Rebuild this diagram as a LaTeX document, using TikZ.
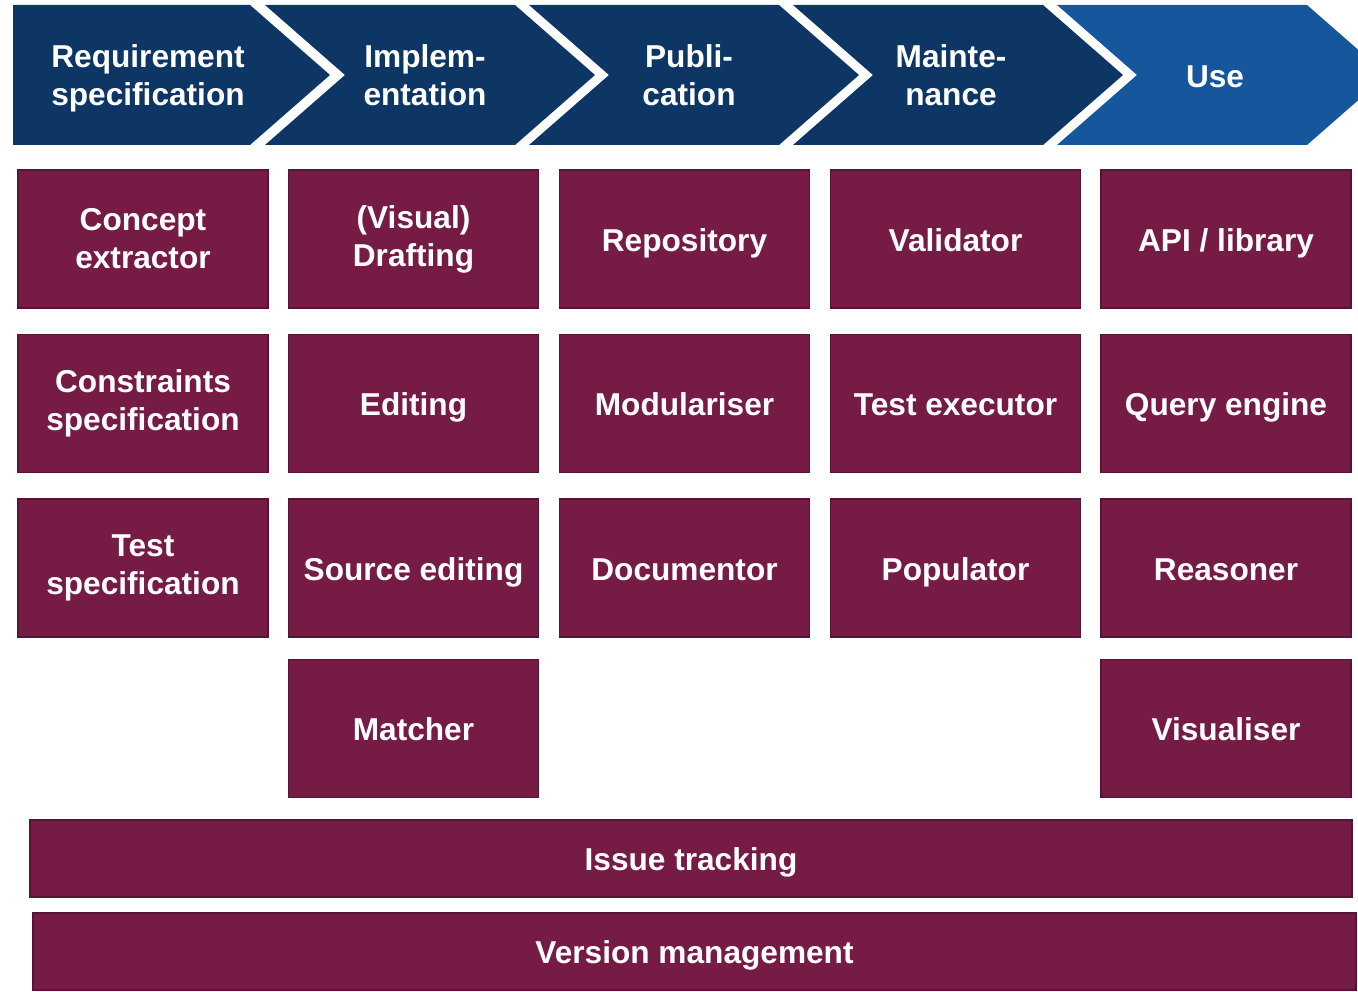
\documentclass[tikz,border=0pt]{standalone}
\usepackage{fontspec}
\setmainfont{Liberation Sans}
\usetikzlibrary{positioning}
\definecolor{phaseblue}{RGB}{13,54,100}
\definecolor{useblue}{RGB}{21,86,156}
\definecolor{toolred}{RGB}{118,26,70}

\tikzset{
  label font/.style={text=white, font=\bfseries\fontsize{9}{10.8}\selectfont, align=center},
  tool/.style={rectangle, fill=toolred, draw=toolred!75!black, line width=0.5pt,
    minimum width=2.5cm, minimum height=1.38cm, inner sep=0pt, label font},
  oneline/.style={text height=1.75ex, text depth=0.45ex},
  bar/.style={tool, oneline, minimum height=0.77cm},
  phase/.style={label font}
}

\begin{document}
\begin{tikzpicture}
    \useasboundingbox (0,0) rectangle (13.58,-9.91);

    % phase arrows along the top
    \fill[phaseblue] (0.13,-0.05) -- (2.50,-0.05) -- (3.30,-0.75) -- (2.50,-1.45) -- (0.13,-1.45) -- cycle;
    \foreach \i/\col in {0/phaseblue,1/phaseblue,2/phaseblue,3/useblue} {
        \pgfmathsetmacro{\l}{2.65+2.64*\i}
        \fill[\col] (\l,-0.05) -- ++(2.50,0) -- ++(0.80,-0.70) -- ++(-0.80,-0.70)
                    -- (\l,-1.45) -- ++(0.80,0.70) -- cycle;
    }
    \node[phase] (req)   at (1.48,-0.78)  {Requirement\\specification};
    \node[phase] (impl)  at (4.25,-0.75)  {Implem-\\entation};
    \node[phase] (pub)   at (6.89,-0.75)  {Publi-\\cation};
    \node[phase] (maint) at (9.51,-0.75)  {Mainte-\\nance};
    \node[phase, oneline] (use) at (12.15,-0.75) {Use};

    % requirement specification
    \node[tool] (concept)     at (1.43,-2.39)  {Concept\\extractor};
    \node[tool] (constraints) at (1.43,-4.035) {Constraints\\specification};
    \node[tool] (testspec)    at (1.43,-5.68)  {Test\\specification};

    % implementation
    \node[tool] (drafting)         at (4.135,-2.39)  {(Visual)\\Drafting};
    \node[tool, oneline] (editing) at (4.135,-4.035) {Editing};
    \node[tool, oneline] (source)  at (4.135,-5.68)  {Source editing};
    \node[tool, oneline] (matcher) at (4.135,-7.285) {Matcher};

    % publication
    \node[tool, oneline] (repository)  at (6.845,-2.39)  {Repository};
    \node[tool, oneline] (modulariser) at (6.845,-4.035) {Modulariser};
    \node[tool, oneline] (documentor)  at (6.845,-5.68)  {Documentor};

    % maintenance
    \node[tool, oneline] (validator) at (9.555,-2.39)  {Validator};
    \node[tool, oneline] (testexec)  at (9.555,-4.035) {Test executor};
    \node[tool, oneline] (populator) at (9.555,-5.68)  {Populator};

    % use
    \node[tool, oneline] (api)        at (12.26,-2.39)  {API / library};
    \node[tool, oneline] (query)      at (12.26,-4.035) {Query engine};
    \node[tool, oneline] (reasoner)   at (12.26,-5.68)  {Reasoner};
    \node[tool, oneline] (visualiser) at (12.26,-7.285) {Visualiser};

    % cross-cutting support
    \node[bar, minimum width=13.22cm] (issues)   at (6.91,-8.585)  {Issue tracking};
    \node[bar, minimum width=13.23cm] (versions) at (6.945,-9.515) {Version management};
\end{tikzpicture}
\end{document}
